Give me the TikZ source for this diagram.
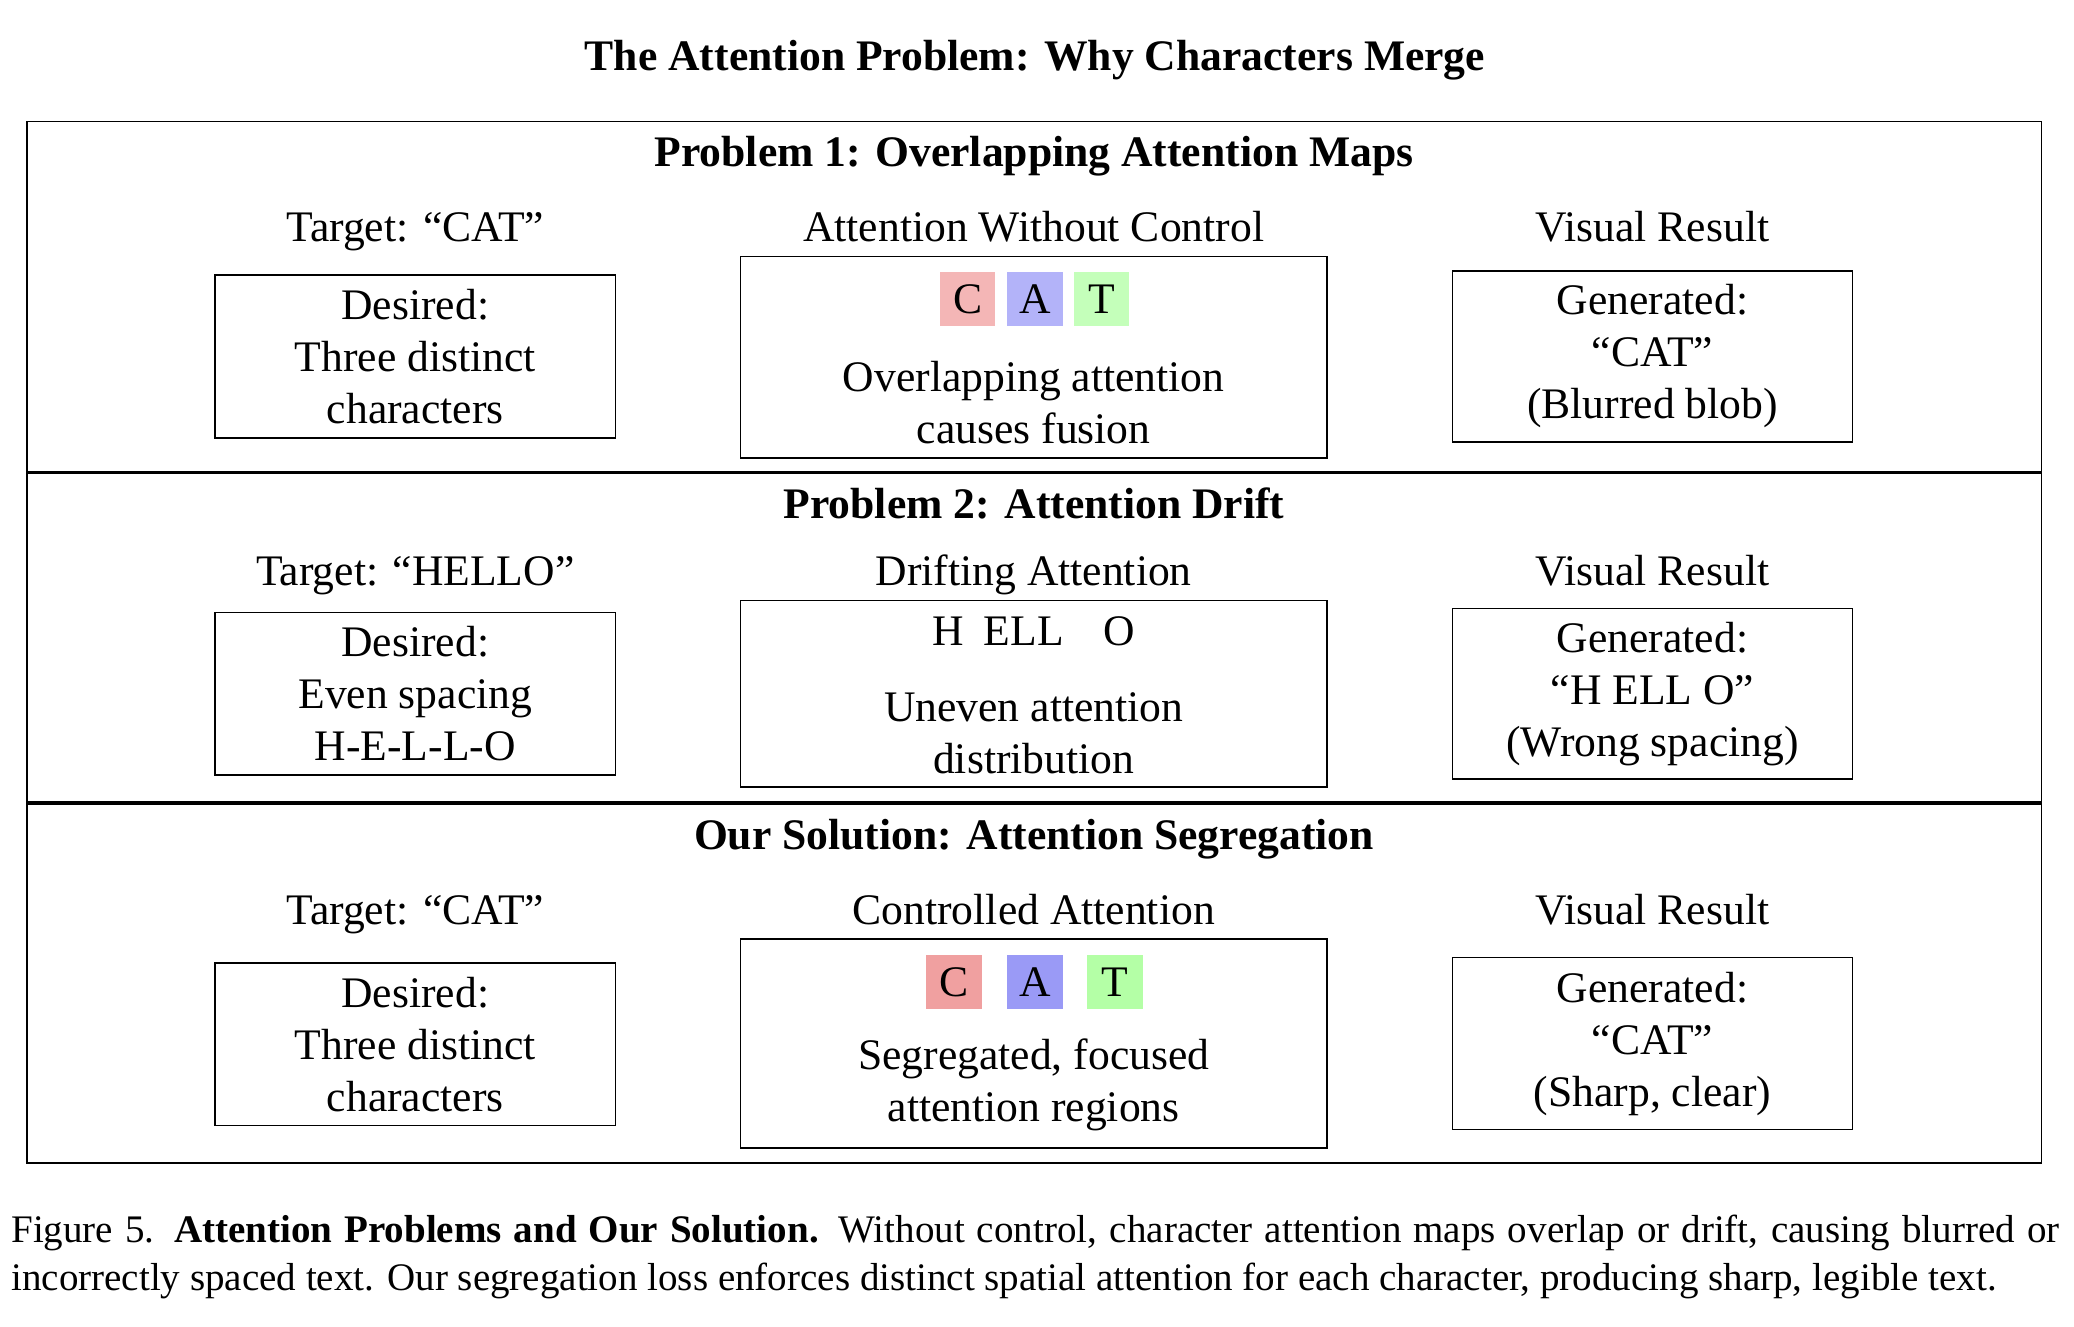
\documentclass[tikz,border=0pt]{standalone}
\usepackage{fontspec}
\setmainfont{Liberation Serif}
\definecolor{cCa}{RGB}{244,182,182}
\definecolor{cAa}{RGB}{179,179,249}
\definecolor{cTa}{RGB}{196,255,186}
\definecolor{cCb}{RGB}{240,160,160}
\definecolor{cAb}{RGB}{154,154,246}
\definecolor{cTb}{RGB}{180,255,166}
\begin{document}
\begin{tikzpicture}[x=0.01cm,y=-0.01cm,
  txt/.style={font=\fontsize{12.4}{14.8}\selectfont, inner sep=0pt, align=center},
  hd/.style={font=\fontsize{12.4}{14.8}\selectfont\bfseries, inner sep=0pt, anchor=base},
  lbl/.style={txt, anchor=base},
  box/.style={txt, draw, line width=0.45pt},
  sidebox/.style={box, minimum width=4cm},
  midbox/.style={draw, line width=0.45pt, minimum width=5.86cm, inner sep=0pt},
  sq/.style={txt, minimum width=0.55cm, minimum height=0.54cm},
  divline/.style={line width=0.9pt},
  captxt/.style={font=\fontsize{11.1}{13.55}\selectfont, inner sep=0pt, anchor=base west}]
\useasboundingbox (0,0) rectangle (2074,1326);

\node[hd] (title) at (1035,70) {The Attention Problem: Why Characters Merge};

\node[draw, line width=0.5pt, minimum width=20.13cm, minimum height=10.41cm, inner sep=0pt] (frame) at (1034.4,642.2) {};
\coordinate (div1) at (0,472.2);
\coordinate (div2) at (0,802.9);
\draw[divline] (frame.west |- div1) -- (frame.east |- div1);
\draw[divline] (frame.west |- div2) -- (frame.east |- div2);

% Row 1
\node[hd] (h1) at (1034,166) {Problem 1: Overlapping Attention Maps};
\node[lbl] (t1) at (415.3,241.5) {Target: “CAT”};
\node[lbl] (a1) at (1033.7,241.5) {Attention Without Control};
\node[lbl] (v1) at (1652.5,241.5) {Visual Result};
\node[sidebox, minimum height=1.628cm] (l1) at (415.3,356.4) {Desired:\\Three distinct\\characters};
\node[midbox, minimum height=2.011cm] (m1) at (1033.7,357.2) {};
\node[sq, fill=cCa] (c1) at (967.6,299) {C};
\node[sq, fill=cAa] (al1) at (1035,299) {A};
\node[sq, fill=cTa] (tl1) at (1101.8,299) {T};
\node[txt] (m1t) at (1033.7,403) {Overlapping attention\\causes fusion};
\node[sidebox, minimum height=1.708cm] (r1) at (1652.5,356.4) {Generated:\\“CAT”\\(Blurred blob)};

% Row 2
\node[hd] (h2) at (1034,518) {Problem 2: Attention Drift};
\node[lbl] (t2) at (415.3,585.4) {Target: “HELLO”};
\node[lbl] (a2) at (1033.7,585.4) {Drifting Attention};
\node[lbl] (v2) at (1652.5,585.4) {Visual Result};
\node[sidebox, minimum height=1.627cm] (l2) at (415.3,693.8) {Desired:\\Even spacing\\H-E-L-L-O};
\node[midbox, minimum height=1.865cm] (m2) at (1033.7,693.8) {};
\node[lbl] (hello) at (1033.7,645) {H\hspace{0.45em}ELL\hspace{0.9em}O};
\node[txt] (m2t) at (1033.7,733) {Uneven attention\\distribution};
\node[sidebox, minimum height=1.706cm] (r2) at (1652.5,693.7) {Generated:\\“H ELL O”\\(Wrong spacing)};

% Row 3
\node[hd] (h3) at (1034,849) {Our Solution: Attention Segregation};
\node[lbl] (t3) at (415.3,924) {Target: “CAT”};
\node[lbl] (a3) at (1033.7,924) {Controlled Attention};
\node[lbl] (v3) at (1652.5,924) {Visual Result};
\node[sidebox, minimum height=1.626cm] (l3) at (415.3,1044.3) {Desired:\\Three distinct\\characters};
\node[midbox, minimum height=2.09cm] (m3) at (1033.7,1043.7) {};
\node[sq, fill=cCb] (c3) at (954,982) {C};
\node[sq, fill=cAb] (al3) at (1035,982) {A};
\node[sq, fill=cTb] (tl3) at (1115,982) {T};
\node[txt] (m3t) at (1033.7,1085) {Segregated, focused\\attention regions};
\node[sidebox, minimum height=1.72cm] (r3) at (1652.5,1043.6) {Generated:\\“CAT”\\(Sharp, clear)};

% Caption
\node[captxt] (cap1) at (10.6,1242) {\makebox[20.47cm][s]{Figure 5.\enspace\textbf{Attention Problems and Our Solution.} Without control, character attention maps overlap or drift, causing blurred or}};
\node[captxt] (cap2) at (10.6,1290) {incorrectly spaced text. Our segregation loss enforces distinct spatial attention for each character, producing sharp, legible text.};
\end{tikzpicture}
\end{document}
